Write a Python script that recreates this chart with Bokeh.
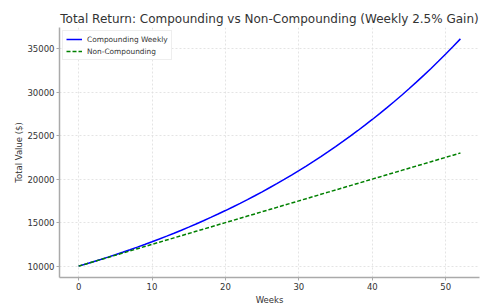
from bokeh.plotting import figure
from bokeh.embed import file_html
from bokeh.resources import INLINE
from bokeh.models import Range1d, FixedTicker, Legend, LegendItem

weeks = list(range(0, 53))
compounding = [10000, 10250, 10506, 10769, 11038, 11314, 11597, 11887, 12184, 12489,
               12801, 13121, 13449, 13785, 14130, 14483, 14845, 15216, 15597, 15987,
               16386, 16796, 17216, 17646, 18087, 18539, 19003, 19478, 19965, 20464,
               20976, 21500, 22038, 22589, 23153, 23732, 24325, 24933, 25557, 26196,
               26851, 27522, 28210, 28915, 29638, 30379, 31139, 31917, 32715, 33533,
               34371, 35230, 36111]
non_compounding = [10000, 10250, 10500, 10750, 11000, 11250, 11500, 11750, 12000, 12250,
                   12500, 12750, 13000, 13250, 13500, 13750, 14000, 14250, 14500, 14750,
                   15000, 15250, 15500, 15750, 16000, 16250, 16500, 16750, 17000, 17250,
                   17500, 17750, 18000, 18250, 18500, 18750, 19000, 19250, 19500, 19750,
                   20000, 20250, 20500, 20750, 21000, 21250, 21500, 21750, 22000, 22250,
                   22500, 22750, 23000]
x_ticks = [0, 10, 20, 30, 40, 50]
y_ticks = [10000, 15000, 20000, 25000, 30000, 35000]

FONT = "DejaVu Sans"
TXT = "#333333"

p = figure(width=500, height=307, output_backend="svg", toolbar_location=None,
           x_range=Range1d(-2.6, 54.6), y_range=Range1d(8694, 37417),
           min_border_left=59, min_border_right=21, min_border_top=27, min_border_bottom=29)

p.title.text = "Total Return: Compounding vs Non-Compounding (Weekly 2.5% Gain)"
p.title.text_font = FONT
p.title.text_font_size = "12px"
p.title.text_font_style = "normal"
p.title.text_color = TXT
p.title.align = "center"
p.title.offset = 0
p.title.standoff = 3

r1 = p.line(weeks, compounding, line_color="#0000ff", line_width=1.5)
r2 = p.line(weeks, non_compounding, line_color="#008000", line_width=1.5, line_dash="4 2")

for ax, ticks in ((p.xaxis[0], x_ticks), (p.yaxis[0], y_ticks)):
    ax.ticker = FixedTicker(ticks=ticks)
    ax.major_label_text_font = FONT
    ax.major_label_text_font_size = "8.5px"
    ax.major_label_text_color = TXT
    ax.axis_label_text_font = FONT
    ax.axis_label_text_font_size = "8.5px"
    ax.axis_label_text_font_style = "normal"
    ax.axis_label_text_color = TXT
    ax.axis_line_color = "#aaaaaa"
    ax.axis_line_width = 1.5
    ax.major_tick_line_color = "#aaaaaa"
    ax.major_tick_in = 0
    ax.major_tick_out = 3
    ax.minor_tick_line_color = None
    ax.major_label_standoff = 2
p.xaxis[0].axis_label = "Weeks"
p.yaxis[0].axis_label = "Total Value ($)"
p.xaxis[0].axis_label_standoff = 2
p.yaxis[0].axis_label_standoff = 0
p.yaxis[0].major_label_orientation = "horizontal"

p.outline_line_color = None
for g in (p.xgrid[0], p.ygrid[0]):
    g.grid_line_color = "#dddddd"
    g.grid_line_dash = "2 2"
    g.grid_line_width = 0.8

legend = Legend(items=[LegendItem(label="Compounding Weekly", renderers=[r1]),
                       LegendItem(label="Non-Compounding", renderers=[r2])],
                location="top_left")
legend.label_text_font = FONT
legend.label_text_font_size = "7.4px"
legend.label_text_color = TXT
legend.glyph_width = 16
legend.glyph_height = 10
legend.label_height = 10
legend.spacing = 2
legend.padding = 3
legend.margin = 3
legend.border_line_color = "#dddddd"
legend.background_fill_alpha = 0.9
p.add_layout(legend)

open("out.html", "w").write(file_html(p, INLINE))
